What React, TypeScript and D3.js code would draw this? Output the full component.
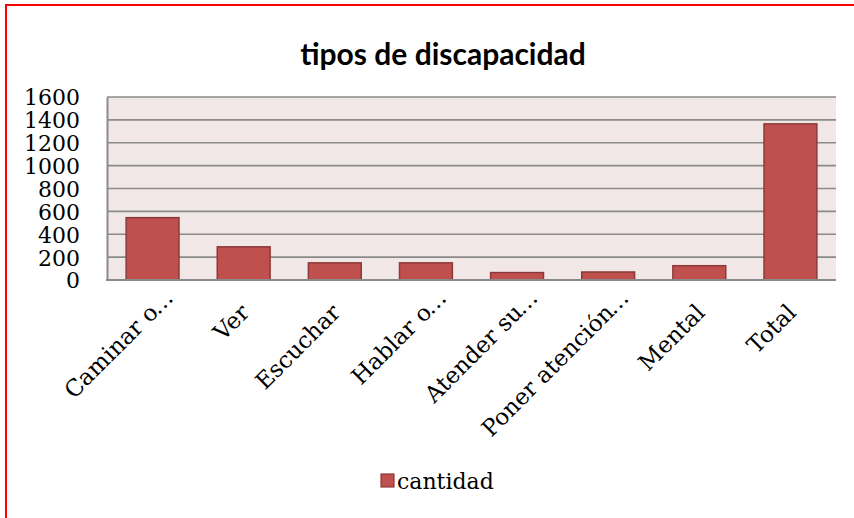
import React, { useRef, useEffect } from 'react';
import { select, scaleBand, scaleLinear, axisLeft } from 'd3';

const categories = ['Caminar o…', 'Ver', 'Escuchar', 'Hablar o…', 'Atender su…', 'Poner atención…', 'Mental', 'Total'];
const cantidad = [545, 290, 150, 150, 65, 70, 125, 1365];
const yTicks = [0, 200, 400, 600, 800, 1000, 1200, 1400, 1600];
const seriesName = 'cantidad';
const title = 'tipos de discapacidad';

const W = 854;
const H = 518;
const plot = { left: 107, right: 836, top: 97, bottom: 280 };
const serif = '"DejaVu Serif", serif';

const App = () => {
  const svgRef = useRef(null);

  useEffect(() => {
    const svg = select(svgRef.current);
    svg.selectAll('*').remove();

    // outer frame (cut off on right/bottom like the screenshot)
    svg.append('rect')
      .attr('x', 6).attr('y', 5)
      .attr('width', W + 10).attr('height', H + 10)
      .attr('fill', '#fff')
      .attr('stroke', '#ff0000')
      .attr('stroke-width', 2);

    svg.append('text')
      .attr('x', 443).attr('y', 65)
      .attr('text-anchor', 'middle')
      .attr('font-family', 'Lato, sans-serif')
      .attr('font-weight', 'bold')
      .attr('font-size', 30)
      .attr('fill', '#000')
      .text(title);

    const x = scaleBand()
      .domain(categories)
      .range([plot.left, plot.right])
      .paddingInner(0.42)
      .paddingOuter(0.21);

    const y = scaleLinear()
      .domain([0, 1600])
      .range([plot.bottom, plot.top]);

    svg.append('rect')
      .attr('x', plot.left).attr('y', plot.top)
      .attr('width', plot.right - plot.left)
      .attr('height', plot.bottom - plot.top)
      .attr('fill', '#f2e7e7');

    // grid lines
    svg.append('g')
      .selectAll('line')
      .data(yTicks.filter(d => d > 0))
      .join('line')
      .attr('x1', plot.left).attr('x2', plot.right)
      .attr('y1', d => y(d)).attr('y2', d => y(d))
      .attr('stroke', '#8a8a8a')
      .attr('stroke-width', 1.6);

    const yAxis = axisLeft(y).tickValues(yTicks).tickFormat(d => String(d)).tickSize(0).tickPadding(27);
    const gy = svg.append('g')
      .attr('transform', `translate(${plot.left},0)`)
      .call(yAxis);
    gy.select('.domain').attr('stroke', '#8a8a8a').attr('stroke-width', 2);
    gy.selectAll('text')
      .attr('font-family', serif)
      .attr('font-size', 22)
      .attr('fill', '#000')
      .attr('dy', '0.36em');

    svg.append('g')
      .selectAll('rect')
      .data(cantidad)
      .join('rect')
      .attr('x', (d, i) => x(categories[i]))
      .attr('y', d => y(d))
      .attr('width', x.bandwidth())
      .attr('height', d => y(0) - y(d))
      .attr('fill', '#c0504d')
      .attr('stroke', '#8c3a38')
      .attr('stroke-width', 1.5);

    // x baseline
    svg.append('line')
      .attr('x1', plot.left - 1).attr('x2', plot.right)
      .attr('y1', plot.bottom).attr('y2', plot.bottom)
      .attr('stroke', '#8a8a8a')
      .attr('stroke-width', 2);

    // rotated category labels; a trailing "…" hangs past the anchor
    const lab = svg.append('g')
      .selectAll('g')
      .data(categories)
      .join('g')
      .attr('transform', d => `translate(${x(d) + x.bandwidth() / 2 + 7},${plot.bottom + 34}) rotate(-45)`)
      .attr('font-family', serif)
      .attr('font-size', 23)
      .attr('fill', '#000');
    lab.append('text')
      .attr('text-anchor', 'end')
      .text(d => d.replace(/…$/, ''));
    lab.filter(d => d.endsWith('…'))
      .append('text')
      .attr('text-anchor', 'start')
      .attr('dx', -2)
      .text('…');

    // legend
    const lg = svg.append('g').attr('transform', 'translate(381,474)');
    lg.append('rect')
      .attr('width', 13).attr('height', 13)
      .attr('fill', '#c0504d')
      .attr('stroke', '#8c3a38')
      .attr('stroke-width', 1.2);
    lg.append('text')
      .attr('x', 16).attr('y', 15)
      .attr('font-family', serif)
      .attr('font-size', 22)
      .attr('fill', '#000')
      .text(seriesName);
  }, []);

  return (
    <svg ref={svgRef} width={W} height={H} style={{ position: 'absolute', left: 0, top: 0 }} />
  );
};

export default App;
